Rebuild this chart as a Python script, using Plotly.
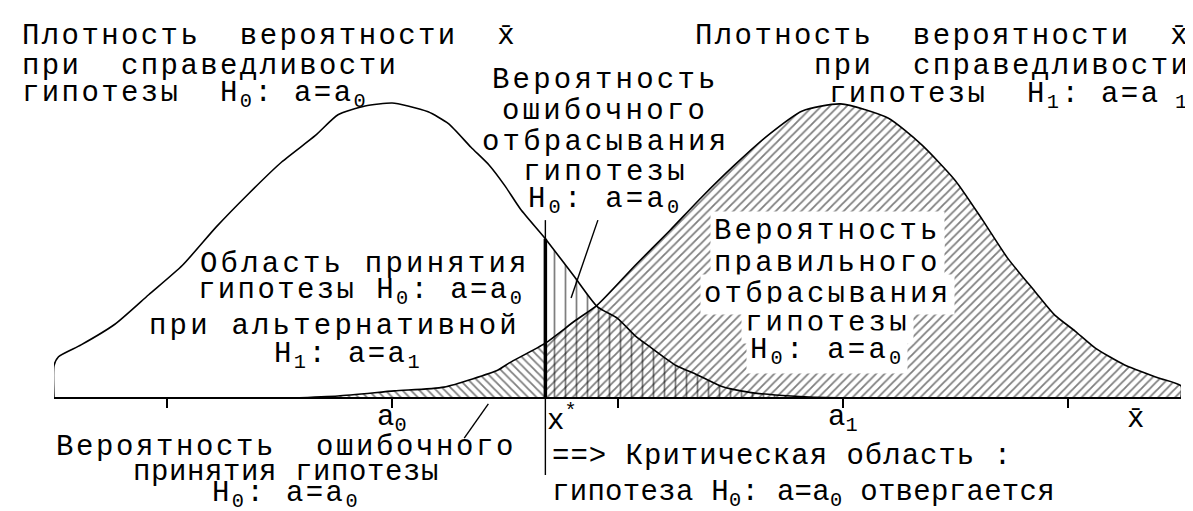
import numpy as np
import plotly.graph_objects as go

# ---------------- data (x in tick units: a0 = 1, a1 = 3; y = density, peak = 1) ----------------
H0_X = [-0.50, -0.50, -0.48, -0.38, -0.23, -0.08, 0.07, 0.22, 0.36, 0.51, 0.66, 0.76, 0.88, 1.00,
        1.07, 1.16, 1.25, 1.35, 1.43, 1.50, 1.57, 1.68, 1.75, 1.81, 1.91, 2.00, 2.08, 2.15, 2.26,
        2.35, 2.46, 2.58, 2.70, 2.85, 3.00]
H0_Y = [0.00, 0.11, 0.14, 0.18, 0.25, 0.35, 0.45, 0.58, 0.69, 0.80, 0.89, 0.96, 0.99, 1.00,
        0.99, 0.97, 0.93, 0.85, 0.79, 0.72, 0.64, 0.54, 0.47, 0.41, 0.31, 0.27, 0.21, 0.17, 0.11,
        0.08, 0.04, 0.02, 0.01, 0.003, 0.0]

H1_X = [0.55, 0.76, 1.01, 1.23, 1.47, 1.52, 1.68, 1.81, 1.91, 2.08, 2.23, 2.37, 2.52, 2.67, 2.82,
        2.99, 3.20, 3.35, 3.50, 3.62, 3.73, 3.85, 3.94, 4.03, 4.12, 4.25, 4.40, 4.50, 4.50]
H1_Y = [0.0, 0.007, 0.024, 0.037, 0.095, 0.119, 0.186, 0.261, 0.315, 0.451, 0.566, 0.678, 0.790,
        0.892, 0.973, 0.997, 0.949, 0.858, 0.736, 0.603, 0.475, 0.363, 0.281, 0.227, 0.169, 0.112,
        0.068, 0.041, 0.0]

X_STAR = 1.68
A0 = 1.0
A1 = 3.0
X_BAR_POS = 4.30
TICK_VALS = [0, 1, 2, 3, 4]

LBL_A0 = "a<sub>0</sub>"
LBL_XSTAR = "x<sup>*</sup>"
LBL_A1 = "a<sub>1</sub>"
LBL_XBAR = "x\u0304"

TXT_H0_DENSITY = ["Плотность  вероятности  x\u0304", "при  справедливости",
                  "гипотезы  H<sub>0</sub>: a=a<sub>0</sub>"]
TXT_H1_DENSITY = ["Плотность  вероятности  x\u0304", "при  справедливости",
                  "гипотезы  H<sub>1</sub>: a=a<sub> 1</sub>"]
TXT_ALPHA = ["Вероятность", "ошибочного", "отбрасывания", "гипотезы",
             "H<sub>0</sub>: a=a<sub>0</sub>"]
TXT_POWER = ["Вероятность", "правильного", "отбрасывания", "гипотезы",
             "H<sub>0</sub>: a=a<sub>0</sub>"]
TXT_ACCEPT = ["Область принятия", "гипотезы H<sub>0</sub>: a=a<sub>0</sub>",
              "при альтернативной", "H<sub>1</sub>: a=a<sub>1</sub>"]
TXT_BETA = ["Вероятность  ошибочного", "принятия гипотезы", "H<sub>0</sub>: a=a<sub>0</sub>"]
TXT_CRIT = ["==> Критическая область :", "гипотеза H<sub>0</sub>: a=a<sub>0</sub> отвергается"]

# ---------------- layout constants ----------------
W, H = 1193, 511
BASE_PX = 390          # baseline pixel row
PEAK_PX = 295          # pixel height of density 1
Y_MIN = -(H - BASE_PX) / PEAK_PX
Y_MAX = BASE_PX / PEAK_PX
X_DOM = [46 / W, 1173 / W]
FONT = dict(family="Liberation Mono", size=29, color="black")


def nb(s):
    return s.replace("  ", "\u00a0\u00a0")


h0x, h0y = np.array(H0_X), np.array(H0_Y)
h1x, h1y = np.array(H1_X), np.array(H1_Y)
left1 = h1x <= X_STAR
right1 = h1x >= X_STAR
right0 = h0x >= X_STAR
h0_at_star = float(np.interp(X_STAR, h0x, h0y))

fig = go.Figure()


def hatch(x, y, shape, size, sol):
    fig.add_trace(go.Scatter(
        x=x, y=y, mode="lines", line=dict(width=0, shape="spline", smoothing=0.6),
        fill="tozeroy", fillcolor="rgba(0,0,0,0)",
        fillpattern=dict(shape=shape, size=size, solidity=sol, fgcolor="black",
                         bgcolor="rgba(0,0,0,0)"),
        hoverinfo="skip", showlegend=False))


hatch(h1x[left1], h1y[left1], "\\", 6, 0.3)
hatch(h1x[right1], h1y[right1], "/", 6, 0.3)
hatch(h0x[right0], h0y[right0], "|", 11, 0.16)

for xs, ys in ((h0x, h0y), (h1x, h1y)):
    fig.add_trace(go.Scatter(x=xs, y=ys, mode="lines",
                             line=dict(color="black", width=1.6, shape="spline", smoothing=0.6),
                             hoverinfo="skip", showlegend=False))

# critical value line
fig.add_trace(go.Scatter(x=[X_STAR, X_STAR], y=[-0.261, 0.603], mode="lines",
                         line=dict(color="black", width=1.4), hoverinfo="skip", showlegend=False))
fig.add_trace(go.Scatter(x=[X_STAR, X_STAR], y=[0, h0_at_star], mode="lines",
                         line=dict(color="black", width=3.5), hoverinfo="skip", showlegend=False))
# pointer lines
fig.add_trace(go.Scatter(x=[1.913, 1.794], y=[0.603, 0.339], mode="lines",
                         line=dict(color="black", width=1.4), hoverinfo="skip", showlegend=False))
fig.add_trace(go.Scatter(x=[1.427, 1.32], y=[-0.02, -0.136], mode="lines",
                         line=dict(color="black", width=1.4), hoverinfo="skip", showlegend=False))

ann = []


def txt(s, px, py, xanchor="center", ls=3.0, bg=None, pad=3):
    body = '<span style="letter-spacing:%.1fpx">%s</span>' % (ls, nb(s))
    d = dict(text=body, x=px / W, y=1 - py / H, xref="paper", yref="paper",
             xanchor=xanchor, yanchor="middle", showarrow=False, font=FONT, borderpad=pad)
    if bg:
        d["bgcolor"] = bg
    ann.append(d)


for s, py in zip(TXT_H0_DENSITY, [29, 58, 87]):
    txt(s, 10, py, "left", ls=2.4)
for s, py in zip(TXT_H1_DENSITY, [29, 58, 88]):
    txt(s, 1186, py, "right", ls=2.4)
for s, py in zip(TXT_ALPHA, [72, 103, 134, 164, 193]):
    txt(s, 597, py, ls=3.2)
for s, py in zip(TXT_POWER, [223, 255, 286, 315, 344]):
    txt(s, 819, py, ls=3.2, bg="white")
for s, py, px, xa, ls in zip(TXT_ACCEPT, [256, 284, 318, 348], [526, 520, 516, 340],
                             ["right", "right", "right", "center"], [3.2, 2.4, 3.2, 2.4]):
    txt(s, px, py, xa, ls=ls)
for s, py, ls in zip(TXT_BETA, [439, 464, 487], [2.6, 0.6, 2.4]):
    txt(s, 278, py, ls=ls, pad=0)
for s, py, ls in zip(TXT_CRIT, [448, 486], [1.0, 0.3]):
    txt(s, 540, py, "left", ls=ls)

for s, xv, xa in ((LBL_A0, A0, "center"), (LBL_XSTAR, X_STAR, "left"),
                  (LBL_A1, A1, "center"), (LBL_XBAR, X_BAR_POS, "center")):
    ann.append(dict(text=s, x=xv, y=1 - 411 / H, xref="x", yref="paper", xanchor=xa,
                    yanchor="middle", showarrow=False, font=FONT))

fig.update_layout(
    width=W, height=H, margin=dict(l=0, r=0, t=0, b=0),
    paper_bgcolor="white", plot_bgcolor="white",
    xaxis=dict(domain=X_DOM, range=[-0.5, 4.5], anchor="free", position=(H - BASE_PX) / H,
               showline=True, linecolor="black", linewidth=2, ticks="outside", ticklen=9,
               tickwidth=1.5, tickcolor="black", tickvals=TICK_VALS, showticklabels=False,
               showgrid=False, zeroline=False, fixedrange=True),
    yaxis=dict(range=[Y_MIN, Y_MAX], visible=False, fixedrange=True),
    annotations=ann, showlegend=False,
)

fig.write_html("out.html")
